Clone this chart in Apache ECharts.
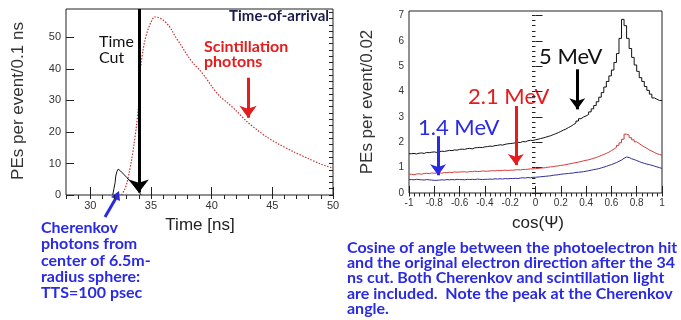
<!DOCTYPE html>
<html>
<head>
<meta charset="utf-8">
<script src="https://cdn.jsdelivr.net/npm/echarts@6/dist/echarts.min.js"></script>
<style>
html, body { margin: 0; padding: 0; background: #fff; }
#main { width: 681px; height: 320px; }
</style>
</head>
<body>
<div id="main"></div>
<script>
// left panel: time of arrival (ns) -> PEs per event / 0.1 ns
var scintTime = [32.55, 32.8, 33.0, 33.2, 33.4, 33.6, 33.8, 33.95, 34.05, 34.1, 34.2, 34.35, 34.5, 34.75, 35.0, 35.3, 35.6, 36.0, 36.4, 36.7, 37.0, 37.4, 37.8, 38.2, 38.6, 39.0, 39.5, 40.0, 40.7, 41.3, 42.0, 42.9, 43.7, 44.5, 45.5, 46.7, 48.0, 49.0, 50.0];
var scintVal  = [0, 1.5, 3.5, 7, 11, 16, 21.7, 27, 31, 39, 42, 46, 49, 52.4, 54.8, 56.5, 56.3, 55.5, 54, 52.4, 50.3, 48, 45.5, 43.2, 41.3, 39.7, 37.3, 34.5, 31.2, 29.3, 26.8, 23.3, 20.8, 18.5, 16.2, 13.8, 11.5, 9.8, 8.5];
var cherTime = [31.85, 31.95, 32.0, 32.05, 32.1, 32.2, 32.3, 32.5, 33.0, 33.5, 34.0, 34.2];
var cherVal  = [0, 2, 1.5, 4, 6, 7.5, 8.2, 7.6, 5.6, 3.4, 1.0, 0];
var timeLabels = [30, 35, 40, 45, 50];
var peLabels = [0, 10, 20, 30, 40, 50];

// right panel: cos(psi) histograms, 100 bins of 0.02 starting at -1
var binStart = -1;
var binWidth = 0.02;
var pe5MeV = [
  1.55, 1.56, 1.54, 1.57, 1.58, 1.56, 1.60, 1.59, 1.61, 1.62,
  1.60, 1.63, 1.65, 1.64, 1.66, 1.68, 1.67, 1.70, 1.69, 1.72,
  1.73, 1.72, 1.75, 1.76, 1.74, 1.78, 1.79, 1.80, 1.79, 1.82,
  1.83, 1.85, 1.84, 1.87, 1.88, 1.90, 1.89, 1.92, 1.94, 1.95,
  1.96, 1.98, 2.00, 1.99, 2.03, 2.02, 2.06, 2.08, 2.07, 2.10,
  2.12, 2.15, 2.17, 2.20, 2.23, 2.26, 2.30, 2.34, 2.38, 2.43,
  2.48, 2.52, 2.58, 2.63, 2.70, 2.76, 2.84, 2.93, 3.00, 3.04,
  3.10, 3.20, 3.32, 3.45, 3.60, 3.78, 3.96, 4.18, 4.40, 4.62,
  4.85, 5.15, 5.50, 6.10, 6.85, 6.60, 6.10, 5.70, 5.35, 5.05,
  4.80, 4.55, 4.40, 4.20, 4.05, 3.90, 3.75, 3.70, 3.65, 3.65
];
var pe21MeV = [
  0.74, 0.72, 0.75, 0.76, 0.74, 0.77, 0.78, 0.76, 0.79, 0.78,
  0.79, 0.80, 0.78, 0.81, 0.80, 0.82, 0.81, 0.83, 0.82, 0.83,
  0.83, 0.84, 0.82, 0.85, 0.84, 0.86, 0.85, 0.85, 0.87, 0.86,
  0.86, 0.87, 0.88, 0.87, 0.89, 0.88, 0.89, 0.90, 0.89, 0.90,
  0.90, 0.91, 0.92, 0.91, 0.93, 0.93, 0.94, 0.95, 0.95, 0.96,
  0.97, 0.98, 0.99, 1.00, 1.02, 1.03, 1.04, 1.06, 1.07, 1.09,
  1.10, 1.12, 1.14, 1.16, 1.18, 1.20, 1.22, 1.24, 1.27, 1.29,
  1.31, 1.34, 1.37, 1.40, 1.44, 1.48, 1.52, 1.56, 1.61, 1.67,
  1.73, 1.80, 1.88, 1.98, 2.12, 2.32, 2.28, 2.18, 2.10, 2.02,
  1.95, 1.88, 1.82, 1.76, 1.70, 1.65, 1.60, 1.55, 1.52, 1.49
];
var pe14MeV = [
  0.53, 0.52, 0.54, 0.53, 0.52, 0.51, 0.53, 0.52, 0.51, 0.50,
  0.50, 0.51, 0.52, 0.51, 0.53, 0.52, 0.53, 0.52, 0.54, 0.53,
  0.53, 0.52, 0.54, 0.53, 0.54, 0.53, 0.55, 0.54, 0.53, 0.54,
  0.54, 0.55, 0.54, 0.56, 0.55, 0.56, 0.55, 0.57, 0.56, 0.57,
  0.57, 0.58, 0.57, 0.59, 0.60, 0.59, 0.61, 0.60, 0.62, 0.62,
  0.63, 0.64, 0.65, 0.66, 0.67, 0.68, 0.70, 0.71, 0.72, 0.74,
  0.75, 0.76, 0.77, 0.78, 0.79, 0.81, 0.82, 0.83, 0.84, 0.86,
  0.88, 0.90, 0.92, 0.94, 0.96, 0.99, 1.02, 1.05, 1.09, 1.12,
  1.16, 1.20, 1.25, 1.30, 1.37, 1.42, 1.40, 1.35, 1.32, 1.28,
  1.24, 1.20, 1.17, 1.14, 1.12, 1.09, 1.06, 1.03, 1.00, 0.97
];
var cosLabels = [-1, -0.8, -0.6, -0.4, -0.2, 0, 0.2, 0.4, 0.6, 0.8, 1];
var cosPeLabels = [0, 1, 2, 3, 4, 5, 6, 7];

function range(a, b, step) {
  var out = [];
  for (var v = a; v <= b + 1e-9; v += step) out.push(+v.toFixed(4));
  return out;
}
function zip(xs, ys) {
  return xs.map(function (x, i) { return [x, ys[i]]; });
}
function histo(vals) {
  var pts = vals.map(function (v, i) { return [binStart + i * binWidth, v]; });
  pts.push([binStart + vals.length * binWidth, vals[vals.length - 1]]);
  return pts;
}

var labelFont = 'Liberation Sans, Arial, sans-serif';
var noteFont = 'Lato, Noto Sans, sans-serif';
var blue = '#2a2ae4';
var red = '#e51c1c';

function majorAxis(grid, min, max, labels, size, len) {
  return {
    type: 'value', gridIndex: grid, min: min, max: max,
    axisLine: { show: false }, splitLine: { show: false },
    axisTick: { inside: true, length: len, customValues: labels, lineStyle: { color: '#222' } },
    axisLabel: { customValues: labels, fontSize: size, color: '#333', fontFamily: labelFont, margin: 5 }
  };
}
function minorAxis(grid, min, max, ticks, len) {
  return {
    type: 'value', gridIndex: grid, min: min, max: max,
    axisLine: { show: false }, splitLine: { show: false },
    axisTick: { inside: true, length: len, customValues: ticks, lineStyle: { color: '#222' } },
    axisLabel: { show: false }
  };
}
function arrow(from, to, color, width, head) {
  return {
    silent: true, animation: false,
    symbol: ['none', 'arrow'], symbolSize: head,
    label: { show: false },
    lineStyle: { color: color, width: width, type: 'solid' },
    emphasis: { disabled: true },
    data: [[{ coord: from }, { coord: to }]]
  };
}

var myChart = echarts.init(document.getElementById('main'));

var option = {
  animation: false,
  grid: [
    { left: 66, right: 348, top: 9, bottom: 125, show: true, borderColor: '#222', borderWidth: 1 },
    { left: 409, right: 19, top: 11, bottom: 127, show: true, borderColor: '#222', borderWidth: 1 }
  ],
  xAxis: [
    majorAxis(0, 28, 50, timeLabels, 11, 8),
    minorAxis(0, 28, 50, range(28, 50, 1), 4),
    majorAxis(1, -1, 1, cosLabels, 10, 7),
    minorAxis(1, -1, 1, range(-1, 1, 0.04), 3.5)
  ],
  yAxis: [
    majorAxis(0, 0, 59, peLabels, 11, 8),
    minorAxis(0, 0, 59, range(0, 58, 2), 4),
    majorAxis(1, 0, 7.18, cosPeLabels, 10, 7),
    minorAxis(1, 0, 7.18, range(0, 7.2, 0.2), 3.5)
  ],
  series: [
    {
      name: 'Scintillation', type: 'line', xAxisIndex: 0, yAxisIndex: 0,
      data: zip(scintTime, scintVal), symbol: 'none', smooth: 0.3,
      lineStyle: { color: '#c83030', width: 1.2, type: [1.5, 1.5] },
      markLine: arrow([43, 37.2], [43, 24.5], red, 3, [13, 12])
    },
    {
      name: 'Cherenkov', type: 'line', xAxisIndex: 0, yAxisIndex: 0,
      data: zip(cherTime, cherVal), symbol: 'none',
      lineStyle: { color: '#111', width: 1 },
      markLine: arrow([34, 59], [34, 0.8], '#000', 3, [15, 13])
    },
    {
      name: '5 MeV', type: 'line', xAxisIndex: 2, yAxisIndex: 2, step: 'end',
      data: histo(pe5MeV), symbol: 'none',
      lineStyle: { color: '#111', width: 1 },
      markLine: arrow([0.33, 4.88], [0.33, 3.3], '#000', 3, [12, 11])
    },
    {
      name: '2.1 MeV', type: 'line', xAxisIndex: 2, yAxisIndex: 2, step: 'end',
      data: histo(pe21MeV), symbol: 'none',
      lineStyle: { color: '#d33a3a', width: 1 },
      markLine: arrow([-0.155, 3.43], [-0.155, 1.1], red, 3, [12, 11])
    },
    {
      name: '1.4 MeV', type: 'line', xAxisIndex: 2, yAxisIndex: 2, step: 'end',
      data: histo(pe14MeV), symbol: 'none',
      lineStyle: { color: '#2c2c9a', width: 1 },
      markLine: arrow([-0.77, 2.24], [-0.77, 0.7], blue, 3, [12, 11])
    }
  ],
  graphic: [
    { type: 'text', x: 18, y: 101, rotation: Math.PI / 2,
      style: { text: 'PEs per event/0.1 ns', font: '17px ' + labelFont, fill: '#333', align: 'center', verticalAlign: 'middle' } },
    { type: 'text', x: 367, y: 102, rotation: Math.PI / 2,
      style: { text: 'PEs per event/0.02', font: '17px ' + labelFont, fill: '#333', align: 'center', verticalAlign: 'middle' } },
    { type: 'text', x: 200, y: 225,
      style: { text: 'Time [ns]', font: '17px ' + labelFont, fill: '#222', align: 'center', verticalAlign: 'middle' } },
    { type: 'text', x: 538, y: 223,
      style: { text: 'cos(Ψ)', font: '17px ' + labelFont, fill: '#222', align: 'center', verticalAlign: 'middle' } },
    { type: 'text', x: 329, y: 16,
      style: { text: 'Time-of-arrival', font: 'bold 15px ' + noteFont, fill: '#1b1b4e', align: 'right', verticalAlign: 'middle' } },
    { type: 'text', x: 99, y: 34,
      style: { text: 'Time\nCut', font: '16px ' + noteFont, fill: '#111', lineHeight: 16 } },
    { type: 'text', x: 204, y: 40,
      style: { text: 'Scintillation\nphotons', font: 'bold 16px ' + noteFont, fill: red, lineHeight: 14.5 } },
    { type: 'text', x: 41, y: 220,
      style: { text: 'Cherenkov\nphotons from\ncenter of 6.5m-\nradius sphere:\nTTS=100 psec', font: 'bold 16px ' + noteFont, fill: blue, lineHeight: 16.2 } },
    { type: 'line', shape: { x1: 105, y1: 217, x2: 116, y2: 198 }, style: { stroke: blue, lineWidth: 3 } },
    { type: 'polygon', shape: { points: [[119, 191], [111, 197], [120, 201]] }, style: { fill: blue } },
    { type: 'text', x: 539, y: 57,
      style: { text: '5 MeV', font: '22px ' + noteFont, fill: '#111', verticalAlign: 'middle' } },
    { type: 'text', x: 468, y: 97,
      style: { text: '2.1 MeV', font: '22px ' + noteFont, fill: red, verticalAlign: 'middle' } },
    { type: 'text', x: 418, y: 128,
      style: { text: '1.4 MeV', font: '22px ' + noteFont, fill: blue, verticalAlign: 'middle' } },
    { type: 'text', x: 347, y: 240,
      style: { text: 'Cosine of angle between the photoelectron hit\nand the original electron direction after the 34\nns cut. Both Cherenkov and scintillation light\nare included.  Note the peak at the Cherenkov\nangle.',
        font: 'bold 16px ' + noteFont, fill: blue, lineHeight: 15.3 } }
  ]
};

myChart.setOption(option);
</script>
</body>
</html>
